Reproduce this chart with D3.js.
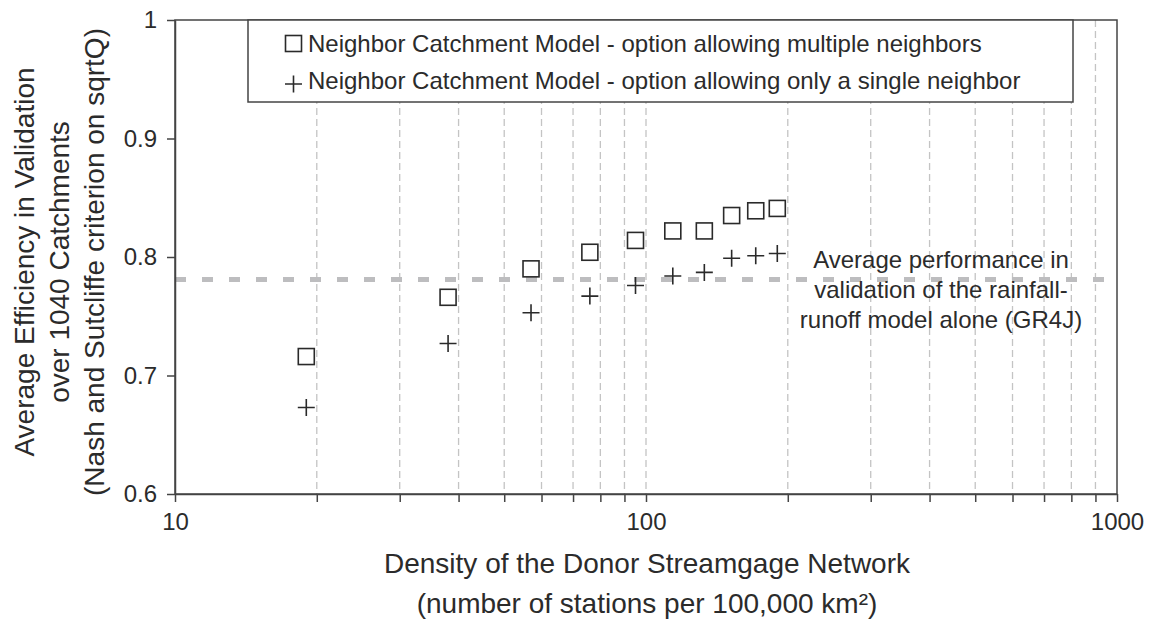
<!DOCTYPE html>
<html>
<head>
<meta charset="utf-8">
<script src="https://cdn.jsdelivr.net/npm/d3@7"></script>
<style>
    body { margin: 0; background: #fff; }
    svg text { font-family: "Liberation Sans", Arial, sans-serif; fill: #2b2b2b; }
</style>
</head>
<body>
<div id="chart"></div>
<script>
// station density (per 100,000 km2) and mean validation efficiency
const density = [19, 38, 57, 76, 95, 114, 133, 152, 171, 190];
const multipleNeighbors = [0.716, 0.766, 0.790, 0.804, 0.814, 0.822, 0.822, 0.835, 0.839, 0.841];
const singleNeighbor = [0.673, 0.727, 0.753, 0.767, 0.776, 0.784, 0.787, 0.799, 0.801, 0.803];
const gr4jAlone = 0.781;

const yTicks = [0.6, 0.7, 0.8, 0.9, 1];
const xTicks = [10, 20, 30, 40, 50, 60, 70, 80, 90, 100, 200, 300, 400, 500, 600, 700, 800, 900, 1000];
const xLabels = [10, 100, 1000];
const legendLabels = [
    "Neighbor Catchment Model - option allowing multiple neighbors",
    "Neighbor Catchment Model - option allowing only a single neighbor"
];
const noteLines = ["Average performance in", "validation of the rainfall-", "runoff model alone (GR4J)"];
const yTitle = ["Average Efficiency in Validation", "over 1040 Catchments", "(Nash and Sutcliffe criterion on sqrtQ)"];
const xTitle = ["Density of the Donor Streamgage Network", "(number of stations per 100,000 km\u00b2)"];

const W = 1153, H = 623;
const margin = {top: 20, right: 36, bottom: 129, left: 175};
const width = W - margin.left - margin.right;
const height = H - margin.top - margin.bottom;

const svg = d3.select("#chart").append("svg")
    .attr("width", W)
    .attr("height", H);
const g = svg.append("g")
    .attr("transform", "translate(" + margin.left + "," + margin.top + ")");

const x = d3.scaleLog().domain([10, 1000]).range([0, width]);
const y = d3.scaleLinear().domain([0.6, 1]).range([height, 0]);

// vertical dashed grid
g.append("g").selectAll("line")
    .data(xTicks.filter(d => d > 10 && d < 1000))
    .join("line")
    .attr("x1", d => x(d)).attr("x2", d => x(d))
    .attr("y1", 0).attr("y2", height)
    .attr("stroke", "#c4c4c4")
    .attr("stroke-width", 1.3)
    .attr("stroke-dasharray", "7,4");

// GR4J reference line
g.append("line")
    .attr("x1", 0).attr("x2", width)
    .attr("y1", y(gr4jAlone)).attr("y2", y(gr4jAlone))
    .attr("stroke", "#bdbdbf")
    .attr("stroke-width", 5)
    .attr("stroke-dasharray", "11,16");

// frame
g.append("rect")
    .attr("width", width).attr("height", height)
    .attr("fill", "none")
    .attr("stroke", "#444")
    .attr("stroke-width", 1.5);

// axes
const xAxis = g.append("g")
    .attr("transform", "translate(0," + height + ")")
    .call(d3.axisBottom(x)
        .tickValues(xTicks)
        .tickFormat(d => xLabels.includes(d) ? d3.format("d")(d) : "")
        .tickSize(8)
        .tickSizeOuter(0)
        .tickPadding(11));
const yAxis = g.append("g")
    .call(d3.axisLeft(y)
        .tickValues(yTicks)
        .tickFormat(d => d === 1 ? "1" : d.toFixed(1))
        .tickSize(8)
        .tickSizeOuter(0)
        .tickPadding(10));
[xAxis, yAxis].forEach(function (ax) {
    ax.select(".domain").attr("stroke", "#444").attr("stroke-width", 1.5);
    ax.selectAll(".tick line").attr("stroke", "#444").attr("stroke-width", 1.5);
    ax.selectAll(".tick text").style("font-size", "24px").attr("fill", "#2b2b2b");
});

// markers
const sq = 16;
g.append("g").selectAll("rect")
    .data(density)
    .join("rect")
    .attr("x", d => x(d) - sq / 2)
    .attr("y", (d, i) => y(multipleNeighbors[i]) - sq / 2)
    .attr("width", sq).attr("height", sq)
    .attr("fill", "none")
    .attr("stroke", "#2a2a2a")
    .attr("stroke-width", 1.6);

const plus = 17;
g.append("g").selectAll("path")
    .data(density)
    .join("path")
    .attr("d", function (d, i) {
        let cx = x(d), cy = y(singleNeighbor[i]), h = plus / 2;
        return "M" + (cx - h) + "," + cy + "H" + (cx + h) + "M" + cx + "," + (cy - h) + "V" + (cy + h);
    })
    .attr("fill", "none")
    .attr("stroke", "#2a2a2a")
    .attr("stroke-width", 1.6);

// annotation of the reference line
g.append("text")
    .attr("text-anchor", "middle")
    .style("font-size", "24px")
    .selectAll("tspan")
    .data(noteLines)
    .join("tspan")
    .attr("x", 766)
    .attr("y", (d, i) => 248 + i * 30)
    .text(d => d);

// legend
const legend = svg.append("g");
legend.append("rect")
    .attr("x", 248).attr("y", 20)
    .attr("width", 825).attr("height", 82)
    .attr("fill", "#fff")
    .attr("stroke", "#444")
    .attr("stroke-width", 1.5);
legend.append("rect")
    .attr("x", 285.5).attr("y", 35.5)
    .attr("width", 16).attr("height", 16)
    .attr("fill", "none")
    .attr("stroke", "#2a2a2a")
    .attr("stroke-width", 1.6);
legend.append("path")
    .attr("d", "M285,84H302M293.5,75.5V92.5")
    .attr("stroke", "#2a2a2a")
    .attr("stroke-width", 1.6);
legend.selectAll("text.lab")
    .data(legendLabels)
    .join("text")
    .attr("class", "lab")
    .attr("x", 308)
    .attr("y", (d, i) => 52 + i * 37)
    .style("font-size", "24px")
    .text(d => d);

// axis titles
svg.append("text")
    .attr("text-anchor", "middle")
    .style("font-size", "28px")
    .selectAll("tspan")
    .data(xTitle)
    .join("tspan")
    .attr("x", 647)
    .attr("y", (d, i) => 573 + i * 40)
    .text(d => d);

svg.append("text")
    .attr("text-anchor", "middle")
    .attr("transform", "translate(0,262) rotate(-90)")
    .style("font-size", "28px")
    .selectAll("tspan")
    .data(yTitle)
    .join("tspan")
    .attr("x", 0)
    .attr("y", (d, i) => 34 + i * 35)
    .text(d => d);
</script>
</body>
</html>
